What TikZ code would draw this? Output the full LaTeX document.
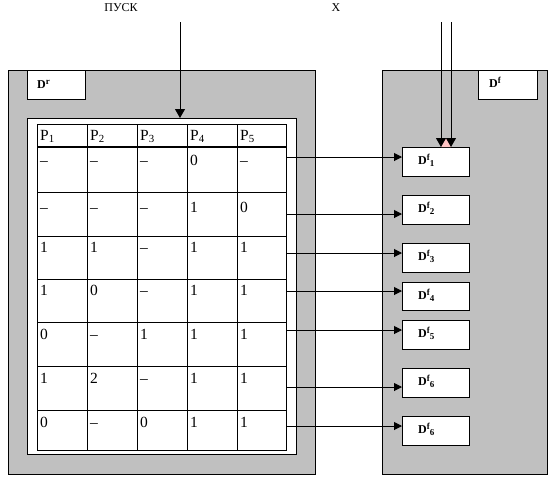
\documentclass[tikz,border=0pt]{standalone}
\usepackage{fontspec}
\setmainfont{Liberation Serif}
\usetikzlibrary{arrows.meta}
\definecolor{boxgray}{RGB}{192,192,192}
\definecolor{gappink}{RGB}{255,195,195}
\newcommand{\hisup}[1]{\raisebox{3.5pt}{\fontsize{9}{10}\selectfont #1}}
\newcommand{\losub}[1]{\raisebox{-2.5pt}{\fontsize{9}{10}\selectfont #1}}
\begin{document}
\begin{tikzpicture}[x=1pt,y=-1pt,
  box/.style={draw=black,line width=1pt,inner sep=0pt,outer sep=0pt,anchor=north west},
  panel/.style={box,fill=boxgray},
  whitebox/.style={box,fill=white},
  dlabel/.style={font=\fontsize{12}{14}\selectfont\bfseries,anchor=base west,inner sep=0pt},
  cell/.style={font=\fontsize{15.5}{17}\selectfont,anchor=base west,inner sep=0pt},
  toplabel/.style={font=\fontsize{12}{14}\selectfont,anchor=base,inner sep=0pt},
  grid/.style={line width=1pt},
  arr/.style={line width=1pt,-{Triangle[length=8pt,width=8pt]}},
  bigarr/.style={line width=1pt,-{Triangle[length=9pt,width=10pt]}}]
\useasboundingbox (0,0) rectangle (554,480);

% panels
\node[panel,minimum width=307pt,minimum height=404pt] (lpanel) at (8,70) {};
\node[panel,minimum width=165pt,minimum height=404pt] (rpanel) at (382,70) {};
\node[whitebox,minimum width=58pt,minimum height=29pt] (drbox) at (27,70) {};
\node[dlabel] (drlab) at (37,88) {D\hisup{r}};
\node[whitebox,minimum width=59pt,minimum height=29pt] (dfbox) at (478,70) {};
\node[dlabel] (dflab) at (489,87) {D\hisup{f}};

% table frame and grid
\node[whitebox,minimum width=269pt,minimum height=336pt] (frame) at (27,118) {};
\node[box,minimum width=249pt,minimum height=326pt] (tab) at (37,124) {};
\foreach \xx in {87,137,187,237} \draw[grid] (\xx,124) -- (\xx,450);
\foreach \yy in {192,236,279,322,366,410} \draw[grid] (37,\yy) -- (286,\yy);
\draw[line width=2pt] (37,147) -- (286,147);

% header
\foreach \c in {1,...,5}
  \node[cell] (h\c) at ({-10+50*\c},140) {P\textsubscript{\c}};

% rows
\foreach \row/\base/\vals in {
  1/165/{–,–,–,0,–},
  2/212/{–,–,–,1,0},
  3/252/{1,1,–,1,1},
  4/295/{1,0,–,1,1},
  5/339/{0,–,1,1,1},
  6/383/{1,2,–,1,1},
  7/427/{0,–,0,1,1}}{
  \foreach \v [count=\c] in \vals
    \node[cell] (t\row-\c) at ({-10+50*\c},\base) {\v};
}

% Df boxes
\foreach \i/\top/\ht/\sub in {1/147/29/1,2/195/29/2,3/243/29/3,4/282/28/4,5/320/29/5,6/368/29/6,7/416/29/6}{
  \node[whitebox,minimum width=67pt,minimum height=\ht pt] (df\i) at (402,\top) {};
  \node[dlabel] (dfl\i) at (418,\top+17) {D\hisup{f}\losub{\sub}};
}

% row arrows
\foreach \i/\yy in {1/157,2/214,3/253,4/291,5/330,6/387,7/426}{
  \coordinate (r\i) at (286,\yy);
  \draw[arr] (r\i) -- (r\i -| df\i.west);
}

% top labels and input arrows
\node[toplabel] (pusk) at (121,11) {ПУСК};
\node[toplabel] (xlab) at (336,11) {X};
\coordinate (ps) at (180,22);
\draw[bigarr] (ps) -- (ps |- frame.north);
\coordinate (xa) at (441,22);
\coordinate (xb) at (451,22);
\fill[gappink] (441,147) -- (446,138) -- (451,147) -- cycle;
\draw[bigarr] (xa) -- (xa |- df1.north);
\draw[bigarr] (xb) -- (xb |- df1.north);
\end{tikzpicture}
\end{document}
